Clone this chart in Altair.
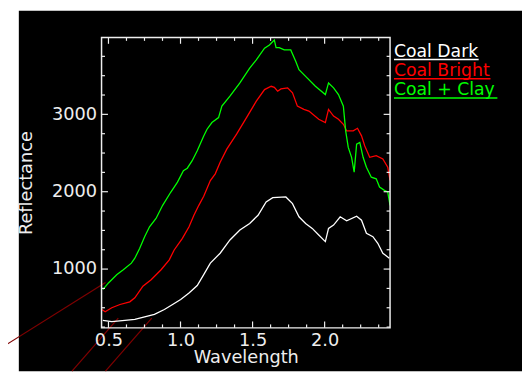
import altair as alt
import pandas as pd

# ---------------- data ----------------
series_names = ["Coal Dark", "Coal Bright", "Coal + Clay"]
series_colors = ["#ffffff", "#ff0000", "#00ff00"]

dark_wl = [0.461, 0.523, 0.614, 0.683, 0.751, 0.819, 0.888, 0.945, 1.001, 1.059,
           1.116, 1.161, 1.207, 1.275, 1.343, 1.412, 1.480, 1.538, 1.594, 1.640,
           1.731, 1.777, 1.822, 1.868, 1.914, 1.959, 2.005, 2.027, 2.062, 2.108,
           2.153, 2.222, 2.256, 2.290, 2.335, 2.369, 2.404, 2.449]
dark_refl = [337, 321, 337, 350, 381, 414, 478, 542, 606, 692,
             788, 929, 1077, 1205, 1376, 1504, 1590, 1696, 1868, 1923,
             1932, 1846, 1676, 1590, 1526, 1440, 1355, 1526, 1568, 1676,
             1624, 1683, 1632, 1462, 1419, 1333, 1205, 1141]

bright_wl = [0.454, 0.477, 0.523, 0.580, 0.648, 0.683, 0.739, 0.796, 0.865, 0.922,
             0.956, 1.013, 1.059, 1.093, 1.127, 1.161, 1.207, 1.241, 1.275, 1.321,
             1.389, 1.458, 1.526, 1.583, 1.629, 1.651, 1.674, 1.697, 1.743, 1.777,
             1.811, 1.856, 1.891, 1.959, 2.005, 2.027, 2.062, 2.096, 2.130, 2.153,
             2.198, 2.228, 2.256, 2.278, 2.313, 2.358, 2.404, 2.438, 2.454]
bright_refl = [478, 449, 500, 542, 577, 628, 778, 863, 991, 1119,
               1247, 1397, 1547, 1696, 1824, 1942, 2145, 2231, 2381, 2551,
               2744, 2958, 3170, 3320, 3363, 3350, 3299, 3329, 3342, 3278,
               3106, 3064, 3042, 2936, 2894, 3064, 2978, 2936, 2872, 2786,
               2786, 2820, 2722, 2594, 2445, 2465, 2423, 2317, 2145]

clay_wl = [0.461, 0.500, 0.557, 0.603, 0.659, 0.683, 0.717, 0.751, 0.785, 0.830,
           0.876, 0.933, 0.979, 1.020, 1.047, 1.081, 1.116, 1.161, 1.184, 1.218,
           1.264, 1.287, 1.343, 1.412, 1.480, 1.526, 1.583, 1.617, 1.651, 1.663,
           1.685, 1.720, 1.765, 1.800, 1.822, 1.868, 1.936, 2.005, 2.027, 2.062,
           2.096, 2.130, 2.146, 2.164, 2.187, 2.205, 2.222, 2.244, 2.267, 2.290,
           2.324, 2.358, 2.381, 2.415, 2.438, 2.454]
clay_refl = [735, 821, 927, 991, 1077, 1141, 1269, 1419, 1547, 1654,
             1824, 1996, 2124, 2273, 2304, 2401, 2529, 2720, 2808, 2894,
             2958, 3106, 3235, 3406, 3599, 3705, 3855, 3897, 3961, 3863,
             3863, 3833, 3833, 3683, 3577, 3491, 3363, 3256, 3406, 3342,
             3256, 3106, 2786, 2573, 2445, 2253, 2615, 2637, 2445, 2317,
             2188, 2167, 2060, 2017, 1996, 1824]

x_major = [0.5, 1.0, 1.5, 2.0]
x_minor = [0.625, 0.75, 0.875, 1.125, 1.25, 1.375, 1.625, 1.75, 1.875,
           2.125, 2.25, 2.375]
y_major = [1000, 2000, 3000]
y_minor = [250, 500, 750, 1250, 1500, 1750, 2250, 2500, 2750, 3250, 3500, 3750]

X_DOMAIN = [0.452, 2.454]
Y_DOMAIN = [240, 3995]

rows = []
for name, wls, vals in zip(series_names, [dark_wl, bright_wl, clay_wl],
                           [dark_refl, bright_refl, clay_refl]):
    for w, v in zip(wls, vals):
        rows.append({"series": name, "wavelength": w, "reflectance": v})
df = pd.DataFrame(rows)

# ---------------- layout / style ----------------
W, H = 293, 295
PAD_L, PAD_T = 95, 27
SVG_W, SVG_H = 522, 366
FONT = "DejaVu Sans"
FG = "#eeeeee"
MAJ, MIN = 6.5, 3.5

xs = alt.Scale(domain=X_DOMAIN, nice=False, zero=False)
ys = alt.Scale(domain=Y_DOMAIN, nice=False, zero=False)
one = alt.Data(values=[{}])

x_axis = alt.Axis(values=x_major, format=".1f", title="Wavelength",
                  labelPadding=4, titleY=35, titleBaseline="alphabetic", zindex=2)
y_axis = alt.Axis(values=y_major, format="d", title="Reflectance",
                  labelPadding=5, titleX=-71, titleBaseline="alphabetic", zindex=2)

bg = alt.Chart(one).mark_rect(color="black").encode(
    x=alt.value(11 - PAD_L), x2=alt.value(SVG_W - PAD_L),
    y=alt.value(-PAD_T), y2=alt.value(SVG_H - PAD_T))

lines = alt.Chart(df).mark_line(strokeWidth=1.3, clip=True).encode(
    x=alt.X("wavelength:Q", scale=xs, axis=x_axis),
    y=alt.Y("reflectance:Q", scale=ys, axis=y_axis),
    color=alt.Color("series:N", scale=alt.Scale(domain=series_names, range=series_colors),
                    legend=None),
)


def xticks(values, length, top):
    y0, y1 = (0, length) if top else (H, H - length)
    return alt.Chart(pd.DataFrame({"wavelength": values})).mark_rule(
        color=FG, strokeWidth=1.2).encode(
        x=alt.X("wavelength:Q", scale=xs, axis=x_axis), y=alt.value(y0), y2=alt.value(y1))


def yticks(values, length, left):
    x0, x1 = (0, length) if left else (W, W - length)
    return alt.Chart(pd.DataFrame({"reflectance": values})).mark_rule(
        color=FG, strokeWidth=1.2).encode(
        y=alt.Y("reflectance:Q", scale=ys, axis=y_axis), x=alt.value(x0), x2=alt.value(x1))


ticks = [xticks(x_major, MAJ, True), xticks(x_major, MAJ, False),
         xticks(x_minor, MIN, True), xticks(x_minor, MIN, False),
         yticks(y_major, MAJ, True), yticks(y_major, MAJ, False),
         yticks(y_minor, MIN, True), yticks(y_minor, MIN, False)]

frame = alt.Chart(one).mark_rect(fillOpacity=0, stroke=FG, strokeWidth=1.5).encode(
    x=alt.value(0), x2=alt.value(W), y=alt.value(0), y2=alt.value(H))

# dark-red annotation leader lines running out of the plot
annot_color = "#800000"
annot_segments = [((-103, 316), (4, 249)), ((-30, 339), (17, 285)), ((4, 339), (51, 285))]
annots = [alt.Chart(one).mark_rule(color=annot_color, strokeWidth=1.2).encode(
    x=alt.value(a[0]), y=alt.value(a[1]), x2=alt.value(b[0]), y2=alt.value(b[1]))
    for a, b in annot_segments]

# underlined legend on the right
leg_x = 297
leg_base = [20, 39.5, 59]
leg_ul = [22.5, 42, 61.5]
leg_len = [86, 98, 105]
legend = []
for i, (name, col) in enumerate(zip(series_names, series_colors)):
    legend.append(alt.Chart(alt.Data(values=[{"label": name}])).mark_text(
        align="left", baseline="alphabetic", font=FONT, fontSize=17.5,
        color=col).encode(
        text="label:N", x=alt.value(leg_x), y=alt.value(leg_base[i])))
    legend.append(alt.Chart(one).mark_rule(color=col, strokeWidth=1.5).encode(
        x=alt.value(leg_x), x2=alt.value(leg_x + leg_len[i]), y=alt.value(leg_ul[i])))

chart = alt.layer(bg, *annots, lines, *ticks, frame, *legend).properties(
    width=W, height=H,
    autosize=alt.AutoSizeParams(type="none"),
    padding={"left": PAD_L, "top": PAD_T, "right": SVG_W - PAD_L - W,
             "bottom": SVG_H - PAD_T - H},
).configure(background="white").configure_view(stroke=None).configure_axis(
    domain=False, ticks=False, grid=False,
    labelFont=FONT, labelFontSize=18, labelColor=FG,
    titleFont=FONT, titleFontSize=18, titleColor=FG, titleFontWeight="normal")

chart.save("out.html", embed_options={"renderer": "svg", "actions": False})
